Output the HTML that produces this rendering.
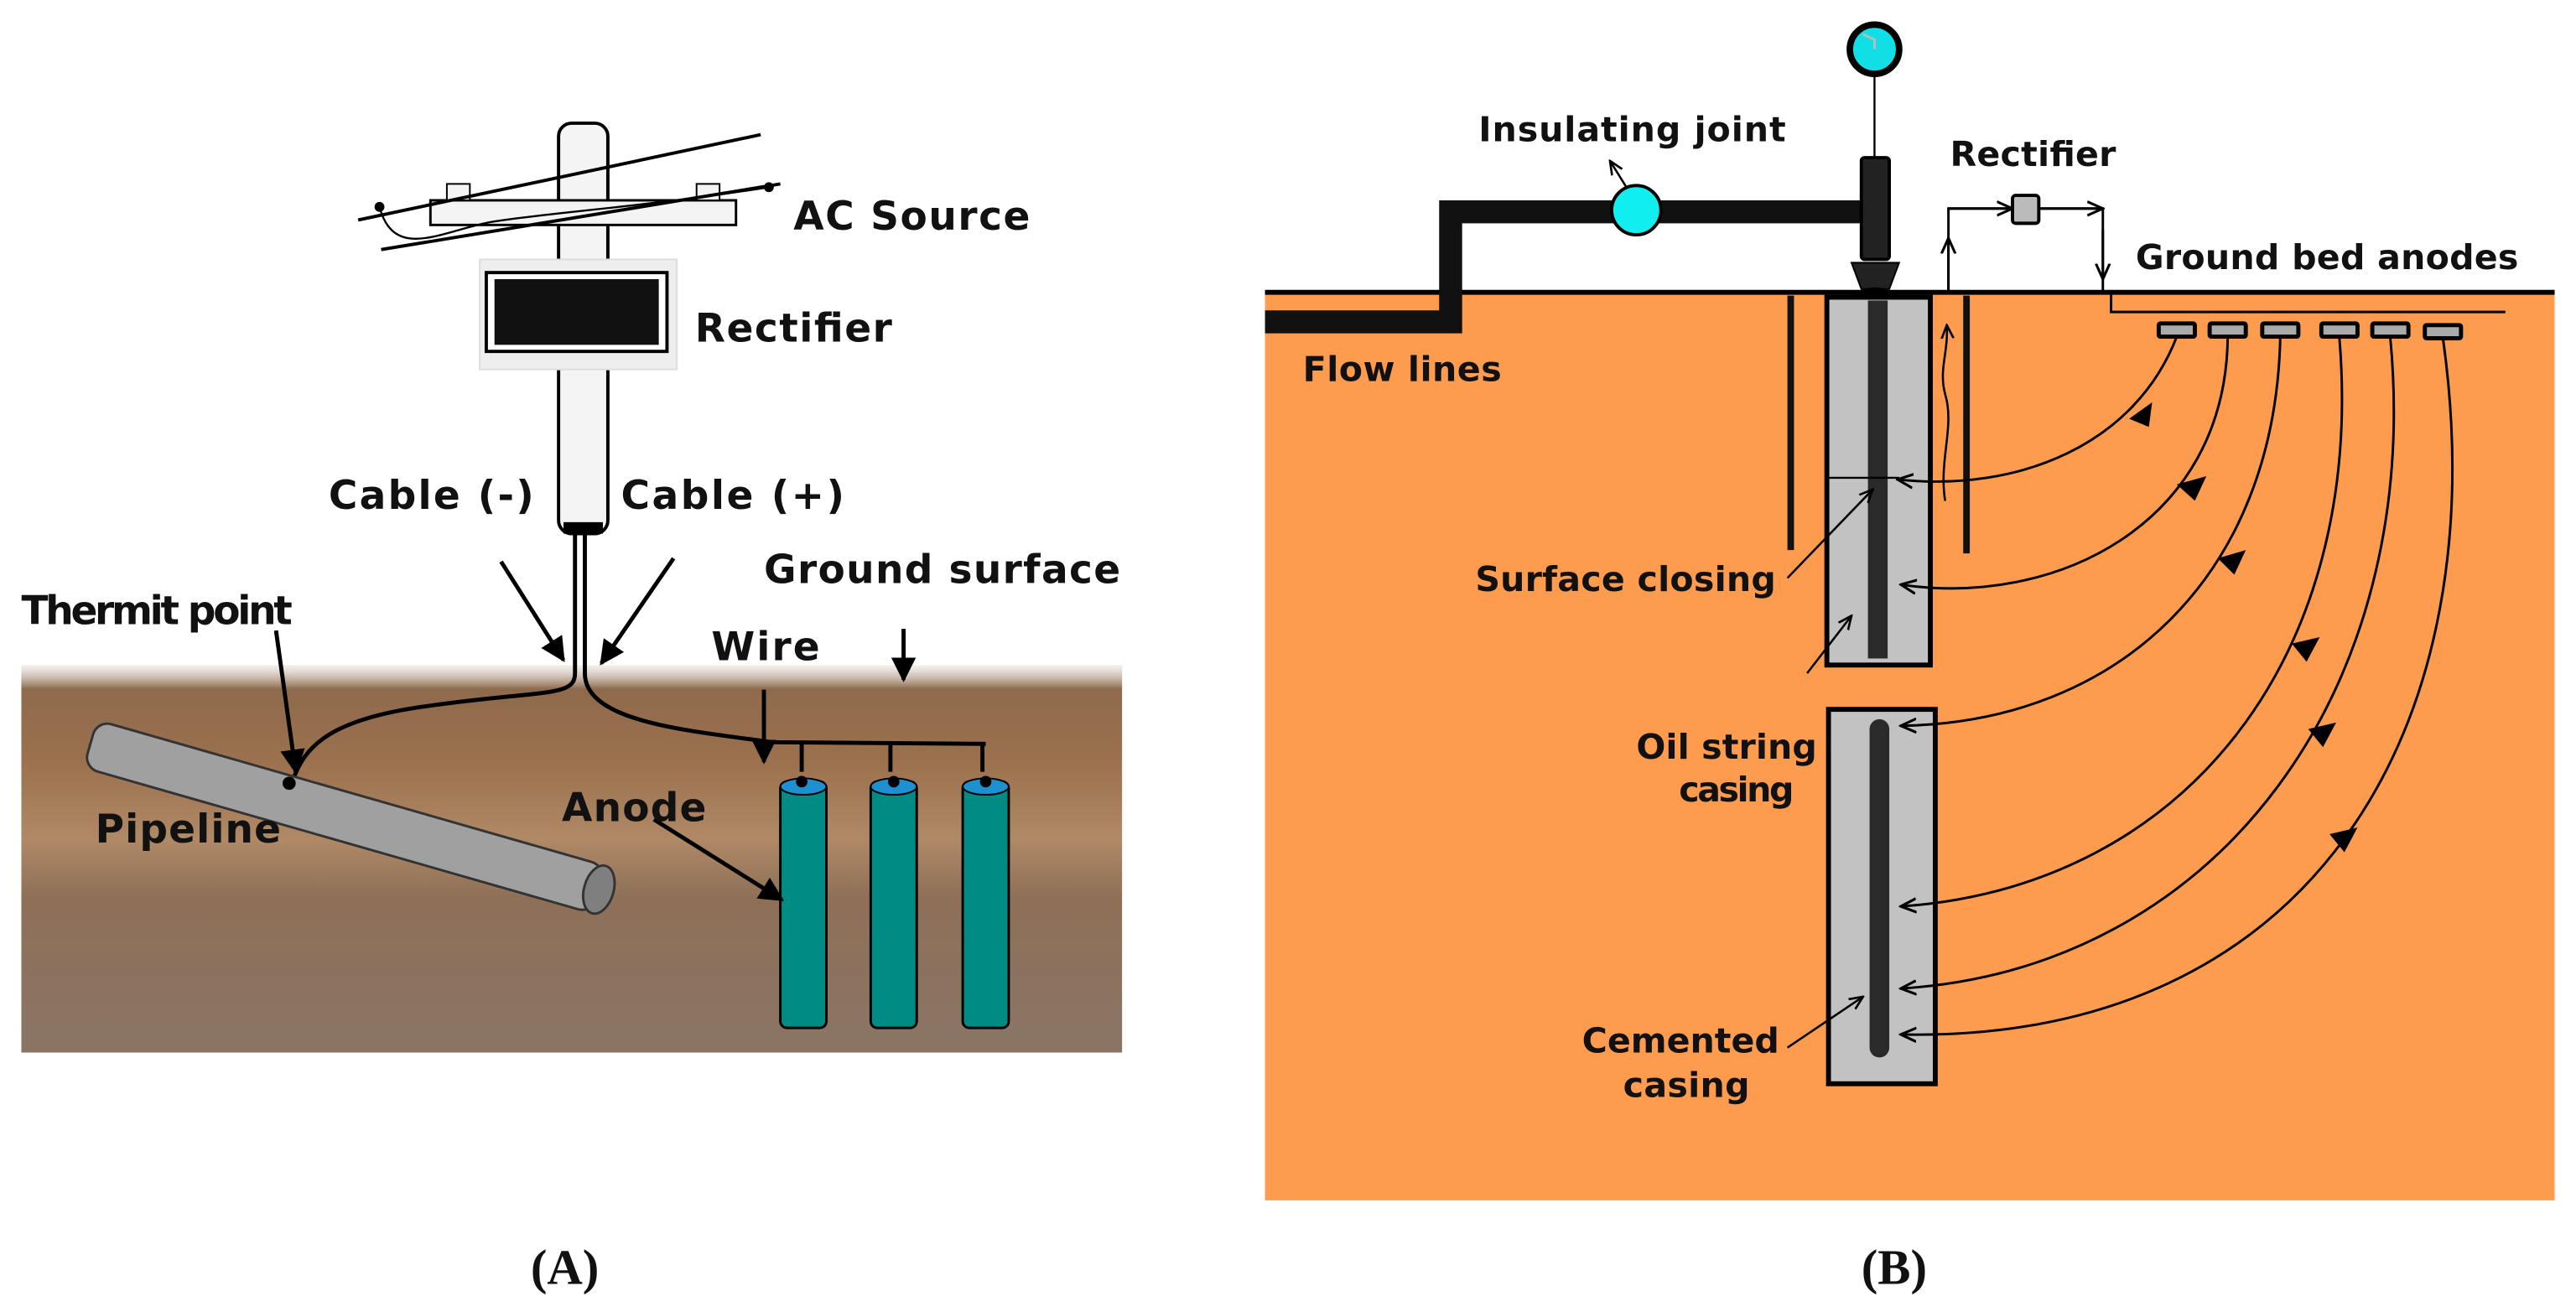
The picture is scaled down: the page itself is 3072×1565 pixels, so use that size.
<!DOCTYPE html>
<html><head><meta charset="utf-8"><style>
html,body{margin:0;padding:0;background:#fff;}
svg{display:block;}
text{font-family:"DejaVu Sans","Liberation Sans",sans-serif;font-weight:bold;fill:#111;}
.cap{font-family:"Liberation Serif",serif;font-weight:bold;font-size:30px;}
</style></head><body>
<svg width="3072" height="1565" viewBox="0 0 1568 799" preserveAspectRatio="none" xmlns="http://www.w3.org/2000/svg">
<defs>
<linearGradient id="soil" x1="0" y1="0" x2="0" y2="1">
<stop offset="0" stop-color="#d8cfc6"/>
<stop offset="0.06" stop-color="#8e6a4c"/>
<stop offset="0.25" stop-color="#9b714e"/>
<stop offset="0.45" stop-color="#b08966"/>
<stop offset="0.6" stop-color="#8e7058"/>
<stop offset="1" stop-color="#8a7565"/>
</linearGradient>
<linearGradient id="top" x1="0" y1="0" x2="0" y2="1">
<stop offset="0" stop-color="#fff" stop-opacity="1"/>
<stop offset="1" stop-color="#fff" stop-opacity="0"/>
</linearGradient>
<marker id="ah" viewBox="0 0 10 10" refX="9" refY="5" markerWidth="6" markerHeight="6" orient="auto"><path d="M0,0 L10,5 L0,10 z" fill="#000"/></marker>
<marker id="oa" viewBox="0 0 10 10" refX="9" refY="5" markerWidth="7" markerHeight="7" orient="auto"><path d="M0,1 L9,5 L0,9" fill="none" stroke="#000" stroke-width="1.5"/></marker>
</defs>

<!-- ===== Panel A ===== -->
<rect x="13" y="405" width="670" height="236" fill="url(#soil)"/>
<rect x="13" y="398" width="670" height="22" fill="url(#top)"/>
<!-- pole -->
<rect x="340" y="75" width="30" height="250" rx="8" fill="#f4f4f4" stroke="#000" stroke-width="2"/>
<rect x="262" y="122" width="186" height="15" fill="#f4f4f4" stroke="#000" stroke-width="1.5"/>
<rect x="272" y="112" width="14" height="10" fill="#f4f4f4" stroke="#000" stroke-width="1"/>
<rect x="424" y="112" width="14" height="10" fill="#f4f4f4" stroke="#000" stroke-width="1"/>
<line x1="218" y1="134" x2="463" y2="82" stroke="#000" stroke-width="2"/>
<line x1="232" y1="152" x2="475" y2="112" stroke="#000" stroke-width="2"/>
<circle cx="231" cy="126" r="3" fill="#000"/><circle cx="468" cy="114" r="3" fill="#000"/>
<path d="M231,126 C240,160 270,140 300,135 S400,125 468,114" fill="none" stroke="#000" stroke-width="1.2"/>
<rect x="292" y="158" width="120" height="67" fill="#eee" stroke="#ddd"/>
<rect x="296" y="166" width="110" height="48" fill="#fff" stroke="#000" stroke-width="2"/>
<rect x="301" y="170" width="100" height="40" fill="#111"/>
<rect x="343" y="318" width="24" height="7" fill="#000"/>
<!-- cables -->
<path d="M350,325 L350,410 C350,425 330,420 260,430 C200,438 185,455 178,476" fill="none" stroke="#000" stroke-width="2.5"/>
<path d="M356,325 L356,410 C356,440 420,445 470,452 L600,453" fill="none" stroke="#000" stroke-width="2.5"/>
<path d="M488,452 L488,470 M542,452 L542,470 M598,452 L598,470" stroke="#000" stroke-width="2.5"/>
<!-- pipeline -->
<g transform="translate(55,453) rotate(16)">
<rect x="0" y="-15" width="322" height="30" rx="9" fill="#a0a0a0" stroke="#333" stroke-width="1.5"/>
<ellipse cx="322" cy="0" rx="9" ry="15" fill="#7f7f7f" stroke="#333" stroke-width="1.5"/>
</g>
<circle cx="176" cy="477" r="4" fill="#000"/>
<!-- anodes -->
<g fill="#008b84" stroke="#000" stroke-width="1.5">
<rect x="475" y="476" width="28" height="150" rx="4"/>
<rect x="530" y="476" width="28" height="150" rx="4"/>
<rect x="586" y="476" width="28" height="150" rx="4"/>
</g>
<g fill="#1e90d0" stroke="#000"><ellipse cx="489" cy="479" rx="14" ry="5"/><ellipse cx="544" cy="479" rx="14" ry="5"/><ellipse cx="600" cy="479" rx="14" ry="5"/></g>
<g fill="#000"><circle cx="488" cy="476" r="3.5"/><circle cx="544" cy="476" r="3.5"/><circle cx="600" cy="476" r="3.5"/></g>
<!-- pointer arrows -->
<g stroke="#000" stroke-width="2.5" marker-end="url(#ah)">
<line x1="305" y1="342" x2="343" y2="402"/>
<line x1="410" y1="340" x2="366" y2="404"/>
<line x1="168" y1="384" x2="180" y2="470"/>
<line x1="550" y1="383" x2="550" y2="414"/>
<line x1="465" y1="420" x2="465" y2="464"/>
<line x1="398" y1="499" x2="476" y2="548"/>
</g>
<text x="483" y="140" font-size="24" textLength="144">AC Source</text>
<text x="423" y="208" font-size="24" textLength="120">Rectifier</text>
<text x="200" y="310" font-size="24" textLength="125">Cable (-)</text>
<text x="378" y="310" font-size="24" textLength="136">Cable (+)</text>
<text x="465" y="355" font-size="24" textLength="217">Ground surface</text>
<text x="13" y="380" font-size="24" textLength="165">Thermit point</text>
<text x="433" y="402" font-size="24" textLength="66">Wire</text>
<text x="342" y="500" font-size="24" textLength="88">Anode</text>
<text x="58" y="513" font-size="24" textLength="113">Pipeline</text>
<text x="323" y="782" class="cap">(A)</text>

<!-- ===== Panel B ===== -->
<rect x="770" y="178" width="785" height="553" fill="#fd9b4f"/>
<line x1="770" y1="178" x2="1555" y2="178" stroke="#000" stroke-width="3"/>
<!-- flow pipe -->
<path d="M770,196 L883,196 L883,129 L1137,129" fill="none" stroke="#111" stroke-width="14" stroke-linejoin="miter"/>
<rect x="1133" y="96" width="17" height="62" rx="2" fill="#222" stroke="#000" stroke-width="2"/>
<path d="M1127,160 L1156,160 L1150,176 L1133,176 z" fill="#222" stroke="#000"/>
<path d="M1124,182 Q1141,168 1158,182 z" fill="#000"/>
<line x1="1141" y1="46" x2="1141" y2="96" stroke="#000" stroke-width="1.2"/>
<circle cx="1141" cy="30" r="15" fill="#10e0e6" stroke="#000" stroke-width="4"/>
<path d="M1141,30 L1141,24 L1134,21" fill="none" stroke="#bbb" stroke-width="1.5"/>
<circle cx="996" cy="128" r="15" fill="#10eef0" stroke="#000" stroke-width="2"/>
<line x1="990" y1="114" x2="980" y2="98" stroke="#000" stroke-width="1.3" marker-end="url(#oa)"/>
<!-- outer casing lines -->
<line x1="1090" y1="180" x2="1090" y2="335" stroke="#111" stroke-width="4"/>
<line x1="1197" y1="180" x2="1197" y2="337" stroke="#111" stroke-width="4"/>
<!-- upper casing -->
<rect x="1112" y="181" width="63" height="224" fill="#c2c2c2" stroke="#000" stroke-width="3"/>
<rect x="1137" y="183" width="12" height="218" fill="#2a2a2a"/>
<line x1="1113" y1="291" x2="1156" y2="291" stroke="#000" stroke-width="1.2"/>
<!-- lower casing -->
<rect x="1113" y="432" width="65" height="228" fill="#c2c2c2" stroke="#000" stroke-width="3"/>
<rect x="1138" y="438" width="12" height="206" rx="6" fill="#2a2a2a"/>
<!-- rectifier circuit -->
<path d="M1186,178 L1186,127 L1280,127 L1280,178 L1285,178 L1285,190 L1525,190" fill="none" stroke="#000" stroke-width="1.5"/>
<line x1="1186" y1="178" x2="1186" y2="145" stroke="#000" stroke-width="1.5" marker-end="url(#oa)"/>
<line x1="1186" y1="127" x2="1225" y2="127" stroke="#000" stroke-width="1.5" marker-end="url(#oa)"/>
<line x1="1240" y1="127" x2="1280" y2="127" stroke="#000" stroke-width="1.5" marker-end="url(#oa)"/>
<line x1="1280" y1="140" x2="1280" y2="170" stroke="#000" stroke-width="1.5" marker-end="url(#oa)"/>
<rect x="1225" y="119" width="16" height="17" rx="2" fill="#bbb" stroke="#000" stroke-width="2"/>
<path d="M1184,305 C1180,280 1190,260 1184,240 C1180,225 1186,215 1185,198" fill="none" stroke="#000" stroke-width="1.3" marker-end="url(#oa)"/>
<!-- anodes -->
<g fill="#aaa" stroke="#000" stroke-width="2.5">
<rect x="1314" y="197" width="22" height="8" rx="1"/>
<rect x="1345" y="197" width="22" height="8" rx="1"/>
<rect x="1377" y="197" width="22" height="8" rx="1"/>
<rect x="1413" y="197" width="22" height="8" rx="1"/>
<rect x="1444" y="197" width="22" height="8" rx="1"/>
<rect x="1476" y="198" width="22" height="8" rx="1"/>
</g>
<!-- current arcs -->
<g fill="none" stroke="#000" stroke-width="1.5">
<path d="M1325,205 C1300,270 1230,300 1155,292" marker-end="url(#oa)"/>
<path d="M1356,205 C1355,320 1250,370 1157,356" marker-end="url(#oa)"/>
<path d="M1388,205 C1385,350 1290,440 1157,442" marker-end="url(#oa)"/>
<path d="M1424,206 C1440,400 1330,540 1157,552" marker-end="url(#oa)"/>
<path d="M1455,206 C1475,420 1350,590 1157,602" marker-end="url(#oa)"/>
<path d="M1487,206 C1520,440 1410,635 1157,630" marker-end="url(#oa)"/>
</g>
<g fill="#000">
<path d="M1296,255 l14,-10 l-2,15 z"/>
<path d="M1325,295 l18,-5 l-7,15 z"/>
<path d="M1350,340 l17,-5 l-7,15 z"/>
<path d="M1395,392 l17,-4 l-8,15 z"/>
<path d="M1405,444 l17,-4 l-8,15 z"/>
<path d="M1418,508 l17,-4 l-8,15 z"/>
</g>
<!-- label pointers -->
<g stroke="#000" stroke-width="1.3" fill="none">
<line x1="1088" y1="352" x2="1140" y2="298" marker-end="url(#oa)"/>
<line x1="1100" y1="410" x2="1127" y2="375" marker-end="url(#oa)"/>
<line x1="1088" y1="638" x2="1134" y2="607" marker-end="url(#oa)"/>
</g>
<text x="900" y="86" font-size="21" textLength="187">Insulating joint</text>
<text x="1187" y="101" font-size="21" textLength="101">Rectifier</text>
<text x="1300" y="164" font-size="21" textLength="233">Ground bed anodes</text>
<text x="793" y="232" font-size="21" textLength="121">Flow lines</text>
<text x="898" y="360" font-size="21" textLength="183">Surface closing</text>
<text x="996" y="462" font-size="21" textLength="110">Oil string</text>
<text x="1022" y="488" font-size="21" textLength="70">casing</text>
<text x="963" y="641" font-size="21" textLength="120">Cemented</text>
<text x="988" y="668" font-size="21" textLength="77">casing</text>
<text x="1133" y="782" class="cap">(B)</text>
</svg>
</body></html>
